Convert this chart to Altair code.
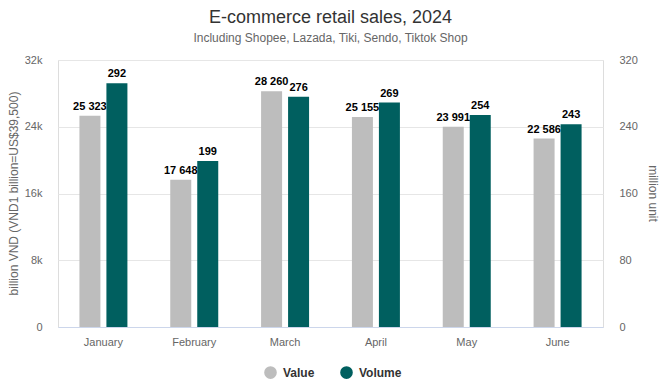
import altair as alt
import pandas as pd

months = ["January", "February", "March", "April", "May", "June"]
value_bn_vnd = [25323, 17648, 28260, 25155, 23991, 22586]
volume_mn_unit = [292, 199, 276, 269, 254, 243]
series_names = ["Value", "Volume"]
series_colors = ["#bdbdbd", "#005f5f"]
left_ticks = [0, 8000, 16000, 24000, 32000]
right_ticks = [0, 80, 160, 240, 320]

FONT = "Liberation Sans"


def fmt(v):
    return f"{v:,}".replace(",", " ")


df = pd.DataFrame({
    "month": months * 2,
    "series": ["Value"] * len(months) + ["Volume"] * len(months),
    "amount": value_bn_vnd + volume_mn_unit,
})
df["label"] = [fmt(v) for v in df["amount"]]

x_enc = alt.X(
    "month:N",
    sort=months,
    scale=alt.Scale(paddingInner=0.4716, paddingOuter=0.2358),
    axis=alt.Axis(
        title=None, labelAngle=0, domainColor="#ccd6eb", ticks=False,
        labelColor="#666666", labelFontSize=11, labelPadding=9, grid=False,
        labelFont=FONT,
    ),
)
xo_enc = alt.XOffset(
    "series:N",
    scale=alt.Scale(domain=series_names, paddingInner=0.222, paddingOuter=0),
)
color_enc = alt.Color(
    "series:N",
    scale=alt.Scale(domain=series_names, range=series_colors),
    legend=alt.Legend(
        title=None, orient="none", legendX=206, legendY=306,
        direction="horizontal", symbolType="circle", symbolSize=160,
        symbolStrokeWidth=0, symbolOpacity=1,
        labelFontWeight="bold", labelFontSize=12, labelColor="#333333",
        labelFont=FONT, columnPadding=25, labelOffset=6,
    ),
)

left_y = alt.Y(
    "amount:Q",
    scale=alt.Scale(domain=[0, 32000], nice=False),
    axis=alt.Axis(
        values=left_ticks,
        labelExpr="datum.value == 0 ? '0' : (datum.value / 1000) + 'k'",
        title="billion VND (VND1 billion=US$39,500)",
        titleFontWeight="normal", titleColor="#666666", titleFontSize=12,
        titleFont=FONT, titleX=-45, titleY=133, titleBaseline="middle",
        titleAngle=-90,
        grid=True, gridColor="#e6e6e6", domain=False, ticks=False,
        labelColor="#666666", labelFontSize=11, labelPadding=16, labelFont=FONT,
    ),
)
right_y = alt.Y(
    "amount:Q",
    scale=alt.Scale(domain=[0, 320], nice=False),
    axis=alt.Axis(
        orient="right",
        values=right_ticks,
        title="million unit",
        titleFontWeight="normal", titleColor="#666666", titleFontSize=12,
        titleFont=FONT, titleX=49, titleY=133, titleBaseline="middle",
        titleAngle=90,
        grid=False, domain=False, ticks=False,
        labelColor="#666666", labelFontSize=11, labelPadding=16, labelFont=FONT,
    ),
)

left_base = alt.Chart(df).transform_filter(alt.datum.series == "Value").encode(
    x=x_enc, xOffset=xo_enc, y=left_y
)
right_base = alt.Chart(df).transform_filter(alt.datum.series == "Volume").encode(
    x=x_enc, xOffset=xo_enc, y=right_y
)

text_kw = dict(baseline="bottom", dy=-4, fontWeight="bold", fontSize=11,
               color="#000000", font=FONT)

left = alt.layer(
    left_base.mark_bar().encode(color=color_enc),
    left_base.mark_text(**text_kw).encode(text="label:N"),
)
right = alt.layer(
    right_base.mark_bar().encode(color=color_enc),
    right_base.mark_text(**text_kw).encode(text="label:N"),
)

chart = alt.layer(left, right).resolve_scale(y="independent").properties(
    width=545,
    height=267,
    autosize=alt.AutoSizeParams(type="none"),
    padding={"left": 50, "top": 52, "right": 56, "bottom": 55},
    title=alt.TitleParams(
        "E-commerce retail sales, 2024",
        subtitle="Including Shopee, Lazada, Tiki, Sendo, Tiktok Shop",
        fontSize=18, fontWeight="normal", color="#333333", font=FONT,
        subtitleFontSize=12, subtitleColor="#666666", subtitleFont=FONT,
        anchor="middle", offset=10, subtitlePadding=6,
    ),
).configure_view(stroke=None).configure(background="white")

chart.save("out.html", embed_options={"renderer": "svg", "actions": False})
